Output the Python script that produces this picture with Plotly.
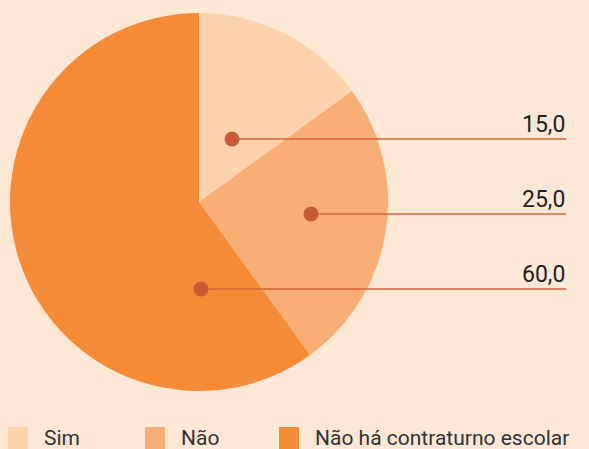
import plotly.graph_objects as go

categories = ["Sim", "Não", "Não há contraturno escolar"]
values = [15.0, 25.0, 60.0]
value_labels = ["15,0", "25,0", "60,0"]
colors = ["#fdd3ae", "#f9ae76", "#f68b37"]

W, H = 589, 449
BG = "#fde8d6"
FONT = "Roboto, sans-serif"

# layout of the leader lines (pixel positions)
dot_x = [232, 311, 201]
line_y = [139, 214, 289]
line_end = 566

fig = go.Figure()
fig.add_trace(go.Pie(
    labels=categories, values=values, sort=False, direction="clockwise",
    rotation=0, textinfo="none", hoverinfo="label+value",
    marker=dict(colors=colors, line=dict(width=0)),
    domain=dict(x=[10 / W, 388 / W], y=[(H - 391) / H, (H - 13) / H]),
    showlegend=False,
))
# invisible trace to create cartesian axes
fig.add_trace(go.Scatter(x=[0], y=[0], mode="markers", opacity=0,
                         hoverinfo="skip", showlegend=False))

for i in range(len(values)):
    fig.add_shape(type="line", xref="x", yref="y", layer="above",
                  x0=dot_x[i], x1=line_end, y0=line_y[i], y1=line_y[i],
                  line=dict(color="#d3643a", width=1.5))
    r = 7.5
    fig.add_shape(type="circle", xref="x", yref="y", layer="above",
                  x0=dot_x[i] - r, x1=dot_x[i] + r,
                  y0=line_y[i] - r, y1=line_y[i] + r,
                  fillcolor="#c95a36", line=dict(width=0))
    fig.add_annotation(x=line_end + 1, y=line_y[i] + 1, xref="x", yref="y",
                       text=value_labels[i], showarrow=False,
                       xanchor="right", yanchor="bottom",
                       font=dict(family=FONT, size=23, color="#231f20"))

# manual legend
leg_x = [8, 145, 279]
for i, cat in enumerate(categories):
    fig.add_shape(type="rect", xref="x", yref="y",
                  x0=leg_x[i], x1=leg_x[i] + 20, y0=427, y1=449,
                  fillcolor=colors[i], line=dict(width=0), layer="above")
    fig.add_annotation(x=leg_x[i] + 34, y=438, xref="x", yref="y",
                       text=cat, showarrow=False, xanchor="left",
                       yanchor="middle",
                       font=dict(family=FONT, size=21, color="#333333"))

fig.update_layout(
    width=W, height=H, margin=dict(l=0, r=0, t=0, b=0),
    paper_bgcolor=BG, plot_bgcolor="rgba(0,0,0,0)",
    xaxis=dict(range=[0, W], visible=False, fixedrange=True, domain=[0, 1]),
    yaxis=dict(range=[H, 0], visible=False, fixedrange=True, domain=[0, 1]),
)
fig.write_html("out.html", config=dict(displayModeBar=False),
               post_script="document.body.style.margin='0px';"
                           "document.body.style.overflow='hidden';")
